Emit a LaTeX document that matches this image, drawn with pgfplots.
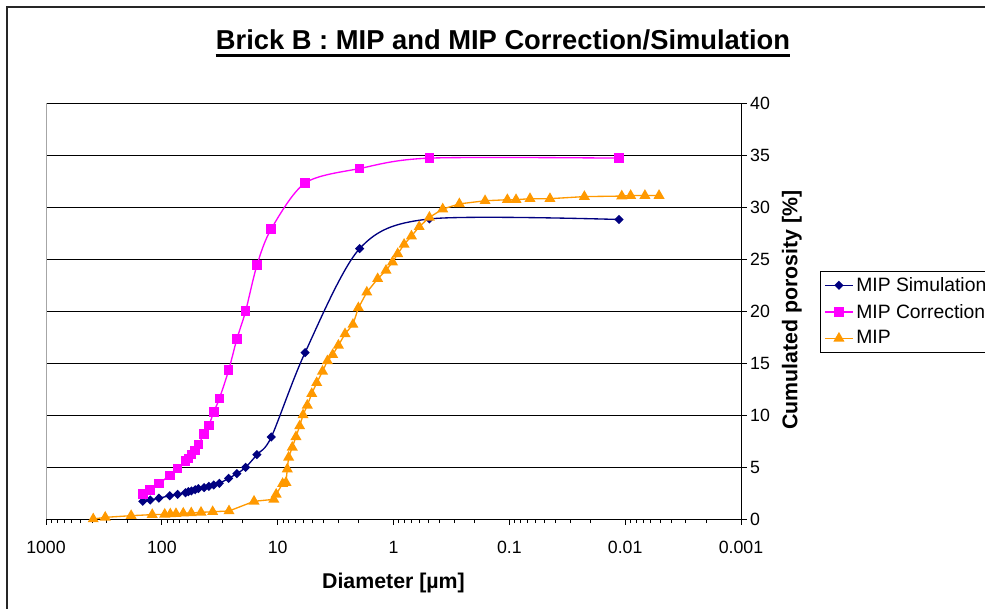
\documentclass[border=0pt]{standalone}
\usepackage{pgfplots}
\pgfplotsset{compat=1.18}
\usepackage{fontspec}
\setmainfont{Liberation Sans}
\definecolor{simcol}{RGB}{0,0,128}
\definecolor{corcol}{RGB}{255,0,255}
\definecolor{mipcol}{RGB}{255,153,0}

\pgfplotstableread{
x y
146 1.7
126 1.83
106 2.0
85.5 2.24
73 2.37
62.5 2.53
59 2.63
55.5 2.7
51.5 2.82
48.3 2.92
43.2 3.02
39.3 3.14
35.6 3.27
31.9 3.43
26.5 3.91
22.5 4.36
18.9 4.97
15.1 6.19
11.35 7.88
5.8 16.0
1.96 26.0
0.49 28.85
0.0113 28.8
}\simdata

\pgfplotstableread{
x y
146 2.4
126 2.79
106 3.4
85.5 4.2
73 4.84
62.5 5.57
59 5.83
55.5 6.19
51.5 6.6
48.3 7.15
43.2 8.17
39.3 9.0
35.6 10.3
31.9 11.57
26.5 14.3
22.5 17.3
18.9 20.0
15.1 24.4
11.35 27.9
5.8 32.3
1.96 33.7
0.49 34.7
0.0113 34.7
}\cordata

\pgfplotstableread{
x y
391 0
308 0.16
184 0.32
121 0.42
94.4 0.45
84.5 0.48
75.5 0.51
65.3 0.55
55.7 0.58
45.9 0.64
36.4 0.70
26.3 0.77
16.0 1.7
10.8 1.89
10.3 2.37
9.06 3.4
8.48 3.5
8.26 4.8
8.04 5.93
7.48 6.89
6.95 7.9
6.46 8.94
6.04 10.0
5.55 10.93
5.08 12.05
4.6 13.1
4.1 14.2
3.72 15.2
3.35 15.8
2.99 16.7
2.62 17.8
2.24 18.7
2.01 20.3
1.70 21.8
1.37 23.1
1.16 23.9
1.02 24.7
0.92 25.5
0.81 26.4
0.70 27.2
0.60 28.1
0.49 29.0
0.376 29.8
0.27 30.3
0.162 30.6
0.104 30.7
0.0875 30.7
0.0663 30.8
0.0446 30.8
0.0225 31.0
0.0107 31.05
0.00897 31.1
0.00675 31.1
0.0051 31.1
}\mipdata

\begin{document}
\begin{tikzpicture}
\useasboundingbox (0,0) rectangle (738.75pt,456pt);
\clip (0,0) rectangle (738.75pt,456pt);
\draw[line width=1.5pt, black!85] (5.6pt,-20pt) rectangle (800pt,450.75pt);

\node[anchor=base, inner sep=0pt, font=\fontsize{20.5}{24}\selectfont\bfseries] (t) at (377.25pt,418.5pt) {Brick B : MIP and MIP Correction/Simulation};
\draw[line width=2pt] ([yshift=-3.9pt]t.base west) -- ([yshift=-3.9pt]t.base east);

\begin{axis}[
  at={(34.5pt,66.75pt)}, anchor=south west,
  scale only axis, width=521.25pt, height=312pt,
  xmode=log, x dir=reverse, xmin=0.001, xmax=1000,
  ymin=0, ymax=40, ytick={0,5,...,40},
  axis y line*=right, axis x line*=bottom,
  axis line style={black, line width=0.7pt, -},
  xtick={1000,100,10,1,0.1,0.01,0.001},
  xticklabels={1000,100,10,1,0.1,0.01,0.001},
  minor xtick={0.002,0.003,0.004,0.005,0.006,0.007,0.008,0.009,
    0.02,0.03,0.04,0.05,0.06,0.07,0.08,0.09,
    0.2,0.3,0.4,0.5,0.6,0.7,0.8,0.9,
    2,3,4,5,6,7,8,9,20,30,40,50,60,70,80,90,
    200,300,400,500,600,700,800,900},
  tick align=outside,
  major tick length=4.2pt, minor tick length=3pt,
  tick style={black, line width=0.6pt},
  /pgf/number format/assume math mode=true,
  xticklabel style={font=\fontsize{13.3}{15}\selectfont, yshift=-9pt},
  yticklabel style={font=\fontsize{13.3}{15}\selectfont, anchor=west, inner sep=2.5pt},
  ymajorgrids, major grid style={black, line width=0.6pt},
  xlabel={Diameter [µm]},
  ylabel={Cumulated porosity [\%]},
  every axis x label/.style={at={(axis description cs:0.5,-0.1535)}, anchor=center, font=\fontsize{16}{19}\selectfont\bfseries},
  every axis y label/.style={at={(axis description cs:1.073,0.502)}, rotate=90, anchor=center, font=\fontsize{16}{19}\selectfont\bfseries},
  legend style={at={(axis description cs:1.1137,0.596)}, anchor=north west, draw=black, fill=white,
    font=\fontsize{14.5}{16}\selectfont, row sep=4pt, inner xsep=3pt, inner ysep=2.5pt},
  legend cell align=left,
  legend image code/.code={\draw[mark repeat=2,mark phase=2,#1] plot coordinates {(0pt,0pt)(10.5pt,0pt)(21pt,0pt)};},
]
\draw[gray!70, line width=0.6pt] (axis description cs:0,0) -- (axis description cs:0,1);
\addplot[simcol, line width=1pt, smooth, mark=diamond*, mark size=2.75pt, mark options={solid, fill=simcol, xscale=1.33}] table[x=x,y=y] {\simdata};
\addlegendentry{MIP Simulation}
\addplot[corcol, line width=1pt, smooth, mark=square*, mark size=3.1pt, mark options={solid, fill=corcol}] table[x=x,y=y] {\cordata};
\addlegendentry{MIP Correction}
\addplot[mipcol, line width=1pt, mark=triangle*, mark size=3.8pt, mark options={solid, fill=mipcol}] table[x=x,y=y] {\mipdata};
\addlegendentry{MIP}
\end{axis}
\end{tikzpicture}
\end{document}
